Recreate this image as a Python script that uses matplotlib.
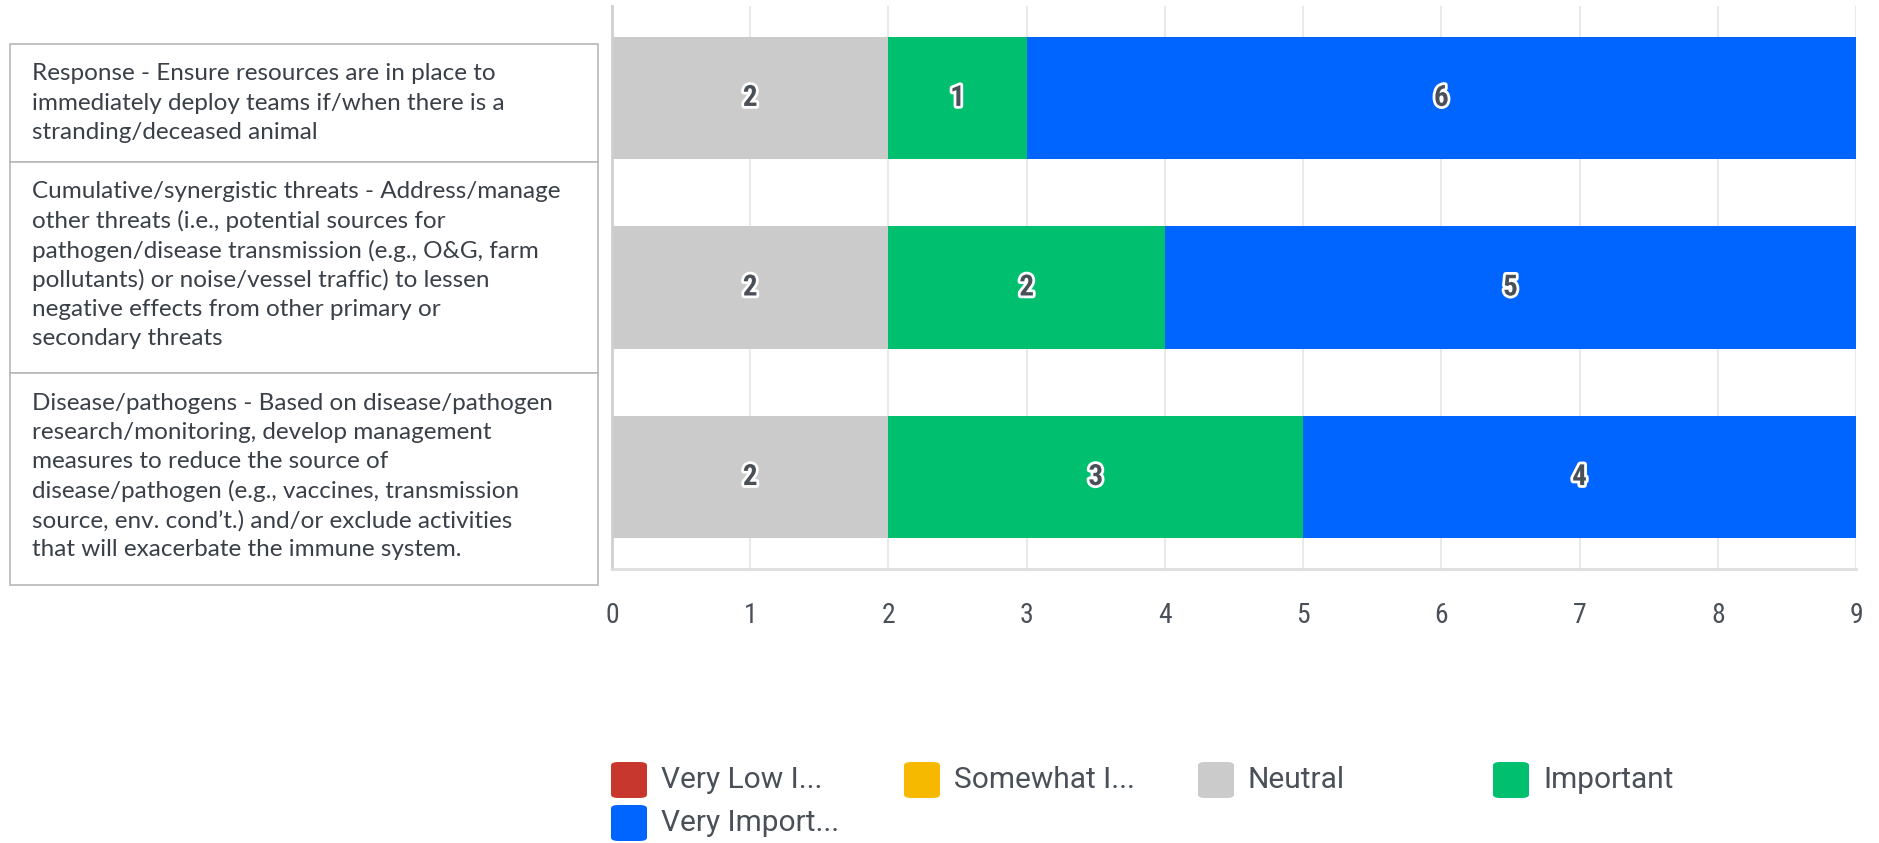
import matplotlib
matplotlib.use("Agg")
import matplotlib.pyplot as plt
import matplotlib.patheffects as pe
from matplotlib.patches import Rectangle, FancyBboxPatch

# survey items, top to bottom
items = [
    ["Response - Ensure resources are in place to",
     "immediately deploy teams if/when there is a",
     "stranding/deceased animal"],
    ["Cumulative/synergistic threats - Address/manage",
     "other threats (i.e., potential sources for",
     "pathogen/disease transmission (e.g., O&G, farm",
     "pollutants) or noise/vessel traffic) to lessen",
     "negative effects from other primary or",
     "secondary threats"],
    ["Disease/pathogens - Based on disease/pathogen",
     "research/monitoring, develop management",
     "measures to reduce the source of",
     "disease/pathogen (e.g., vaccines, transmission",
     "source, env. cond\u2019t.) and/or exclude activities",
     "that will exacerbate the immune system."],
]

levels = ["Very Low I...", "Somewhat I...", "Neutral", "Important", "Very Import..."]
very_low = [0, 0, 0]
somewhat = [0, 0, 0]
neutral = [2, 2, 2]
important = [1, 2, 3]
very_important = [6, 5, 4]
colors = ["#c8372d", "#f7b900", "#cbcbcb", "#00bf6f", "#0065ff"]

narrow = ["Roboto Condensed", "Liberation Sans Narrow", "Roboto", "DejaVu Sans"]

W, H = 1879, 843
fig = plt.figure(figsize=(W / 100, H / 100), dpi=100)

def fx(px):
    return px / W

def fy(py):
    return 1 - py / H

ax = fig.add_axes([fx(612), fy(569), fx(1856) - fx(612), fy(6) - fy(569)])

series = [very_low, somewhat, neutral, important, very_important]
ypos = list(range(len(items)))
left = [0] * len(items)
for vals, col in zip(series, colors):
    ax.barh(ypos, vals, left=left, height=0.645, color=col, zorder=2)
    for i, v in enumerate(vals):
        if v > 0:
            ax.text(left[i] + v / 2, i, str(v), ha="center", va="center",
                    fontsize=21, fontweight="bold", color="#4a5058",
                    family=narrow, zorder=4,
                    path_effects=[pe.withStroke(linewidth=4, foreground="white")])
    left = [a + b for a, b in zip(left, vals)]

ax.set_xlim(0, 9)
ax.set_ylim(2.485, -0.485)
ax.set_xticks(range(10))
ax.set_yticks([])
ax.grid(axis="x", color="#e9e9e9", linewidth=1.5, zorder=0)
ax.tick_params(axis="x", length=0, pad=24, labelsize=20, labelcolor="#4a5058")
for lab in ax.get_xticklabels():
    lab.set_family(narrow)
for s in ["top", "right"]:
    ax.spines[s].set_visible(False)
ax.spines["left"].set_color("#cfcfcf")
ax.spines["left"].set_linewidth(2)
ax.spines["bottom"].set_color("#dedede")
ax.spines["bottom"].set_linewidth(2)

# boxes with the item descriptions
box_edges = [44, 162, 373, 585]
for k, lines in enumerate(items):
    top, bot = box_edges[k], box_edges[k + 1]
    fig.patches.append(Rectangle((fx(10), fy(bot)), fx(598) - fx(10), fy(top) - fy(bot),
                                 transform=fig.transFigure, facecolor="white",
                                 edgecolor="#b8b8b8", linewidth=1.2))
    for j, line in enumerate(lines):
        fig.text(fx(32), fy(top + 30 + j * 29.4), line, fontsize=17.5, family="Lato",
                 color="#3a4048", va="center", ha="left")

# legend
legend_pos = [(611, 780), (904, 780), (1198, 780), (1493, 780), (611, 823)]
for (px, py), name, col in zip(legend_pos, levels, colors):
    fig.patches.append(FancyBboxPatch((fx(px), fy(py + 18)), fx(36), 36 / H,
                                      boxstyle="round,pad=0,rounding_size=0.004",
                                      transform=fig.transFigure, facecolor=col,
                                      edgecolor="none"))
    fig.text(fx(px + 50), fy(py), name, fontsize=21.5, color="#4a5058",
             family=["Roboto", "DejaVu Sans"], va="center", ha="left")

fig.savefig("out.png", dpi=100)
